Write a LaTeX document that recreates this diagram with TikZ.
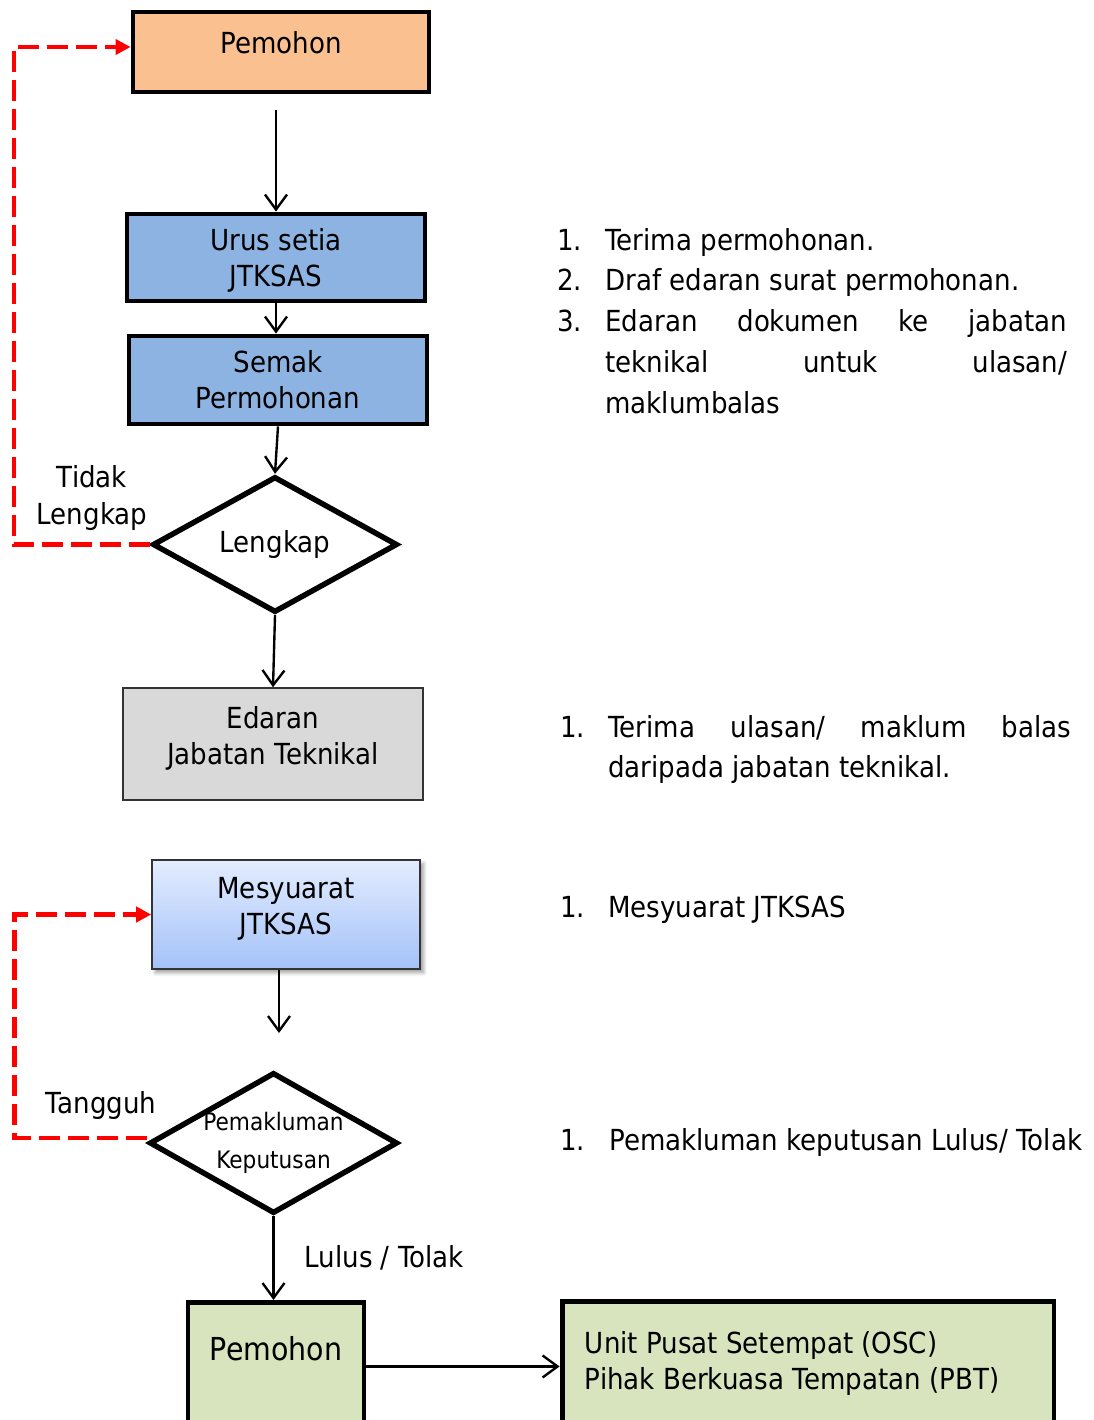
\documentclass[tikz,border=0pt]{standalone}
\usepackage{fontspec}
\setmainfont{DejaVu Sans}[FakeStretch=0.9]
\usepackage{tikz}
\usetikzlibrary{arrows.meta,shapes.geometric,shadows.blur,positioning}
\definecolor{PemohonOrange}{HTML}{FAC090}
\definecolor{UrusBlue}{HTML}{8DB3E2}
\definecolor{EdaranGrey}{HTML}{D9D9D9}
\definecolor{MesyTop}{HTML}{E3ECFF}
\definecolor{MesyBottom}{HTML}{A4C2F8}
\definecolor{HasilGreen}{HTML}{D7E4BD}
\newcommand{\basefont}{\fontsize{16.5}{20.5}\selectfont}
\newcommand{\listfont}{\fontsize{16.5}{23.2}\selectfont}
\newcommand{\smallfont}{\fontsize{13.7}{21.6}\selectfont}

\begin{document}
\begin{tikzpicture}[x=0.02cm, y=-0.02cm, font=\basefont,
    box/.style={draw, line width=2.8pt, minimum width=5.92cm, align=center, inner sep=0pt},
    thinbox/.style={draw=black!80, line width=0.9pt, align=center, inner sep=0pt},
    decision/.style={draw, diamond, line width=3.1pt, aspect=1.76, inner sep=0pt, align=center},
    arr/.style={-{Straight Barb[length=0.3cm, width=0.44cm]}, line width=1.35pt},
    redarr/.style={-{Triangle[length=0.3cm, width=0.3cm]}, red, line width=2.6pt, dash pattern=on 0.42cm off 0.16cm},
    listtext/.style={anchor=base west, inner sep=0pt, font=\listfont}]
    \useasboundingbox (0,0) rectangle (1093,1420);
    \clip (0,0) rectangle (1093,1420);

    % Kotak aliran (kiri)
    \node[box, fill=PemohonOrange, minimum height=1.6cm, text depth=0.4cm] (pemA) at (281,52) {Pemohon};
    \node[box, fill=UrusBlue, minimum width=5.96cm, minimum height=1.74cm, text depth=0cm] (urus) at (276,257.5) {Urus setia\\JTKSAS};
    \node[box, fill=UrusBlue, minimum width=5.96cm, minimum height=1.76cm] (semak) at (278,380) {Semak\\Permohonan};
    \node[decision, minimum width=4.9cm, minimum height=2.72cm] (lengkap) at (275,544.5) {Lengkap};
    \node[thinbox, fill=EdaranGrey, minimum width=6cm, minimum height=2.24cm, text depth=0.35cm] (edaran) at (273,744) {Edaran\\Jabatan Teknikal};
    \node[thinbox, top color=MesyTop, bottom color=MesyBottom, minimum width=5.36cm, minimum height=2.18cm, text depth=0.35cm,
        blur shadow={shadow xshift=2pt, shadow yshift=-2pt, shadow blur steps=5, shadow opacity=40}] (mesy) at (286,914.5) {Mesyuarat\\JTKSAS};
    \node[decision, minimum width=4.94cm, minimum height=2.8cm, font=\smallfont] (pemak) at (273.5,1143) {Pemakluman\\Keputusan};
    \node[box, fill=HasilGreen, minimum width=3.52cm, minimum height=3.2cm, anchor=north,
        label={[anchor=north, yshift=-0.72cm, inner sep=0pt, font=\fontsize{18}{22}\selectfont]north:Pemohon}] (pemB) at (276,1300) {};
    \node[box, fill=HasilGreen, minimum width=9.84cm, minimum height=3.2cm, anchor=north,
        label={[anchor=north west, align=left, xshift=0.5cm, yshift=-0.64cm, inner sep=0pt]north west:{Unit Pusat Setempat (OSC)\\Pihak Berkuasa Tempatan (PBT)}}] (unit) at (808,1299) {};

    % Label cabang
    \node[align=center] (tidak) at (92,498) {Tidak\\Lengkap};
    \node (tangguh) at (101,1105) {Tangguh};
    \coordinate (m1) at (279,1033);

    % Anak panah
    \draw[arr, shorten <=0.32cm] (urus.north |- pemA.south) -- (urus.north);
    \draw[arr] (urus.south) -- (urus.south |- semak.north);
    \draw[arr] (semak.south) -- (lengkap.north);
    \draw[arr] (lengkap.south) -- (edaran.north);
    \draw[arr] (mesy.south -| m1) -- (m1);
    \draw[arr] (pemak.south) -- node[right=0.6cm, inner sep=0pt] {Lulus / Tolak} (pemak.south |- pemB.north);
    \draw[arr] ([yshift=0.32cm]pemB.east) -- ([yshift=0.32cm]pemB.east -| unit.west);
    \draw[redarr] (lengkap.west) -- ++(-136,0) |- ([yshift=0.1cm]pemA.west);
    \draw[redarr] ([yshift=0.1cm]pemak.west) -- ++(-132,0) |- (mesy.west);

    % Senarai tugasan (kanan)
    \node[listtext] (senarai1) at (557,250) {\begin{tabular}[t]{@{}p{0.96cm}@{}l@{}}
        1. & Terima permohonan.\\
        2. & Draf edaran surat permohonan.\\
        3. & \makebox[9.24cm][s]{Edaran dokumen ke jabatan}\\
           & \makebox[9.24cm][s]{teknikal untuk ulasan/}\\
           & maklumbalas
    \end{tabular}};
    \node[listtext] (senarai2) at (560,737) {\begin{tabular}[t]{@{}p{0.96cm}@{}l@{}}
        1. & \makebox[9.26cm][s]{Terima ulasan/ maklum balas}\\
           & daripada jabatan teknikal.
    \end{tabular}};
    \node[listtext] (senarai3) at (560,917) {\begin{tabular}[t]{@{}p{0.96cm}@{}l@{}}
        1. & Mesyuarat JTKSAS
    \end{tabular}};
    \node[listtext] (senarai4) at (560,1150) {\begin{tabular}[t]{@{}p{0.98cm}@{}l@{}}
        1. & Pemakluman keputusan Lulus/ Tolak
    \end{tabular}};
\end{tikzpicture}
\end{document}
